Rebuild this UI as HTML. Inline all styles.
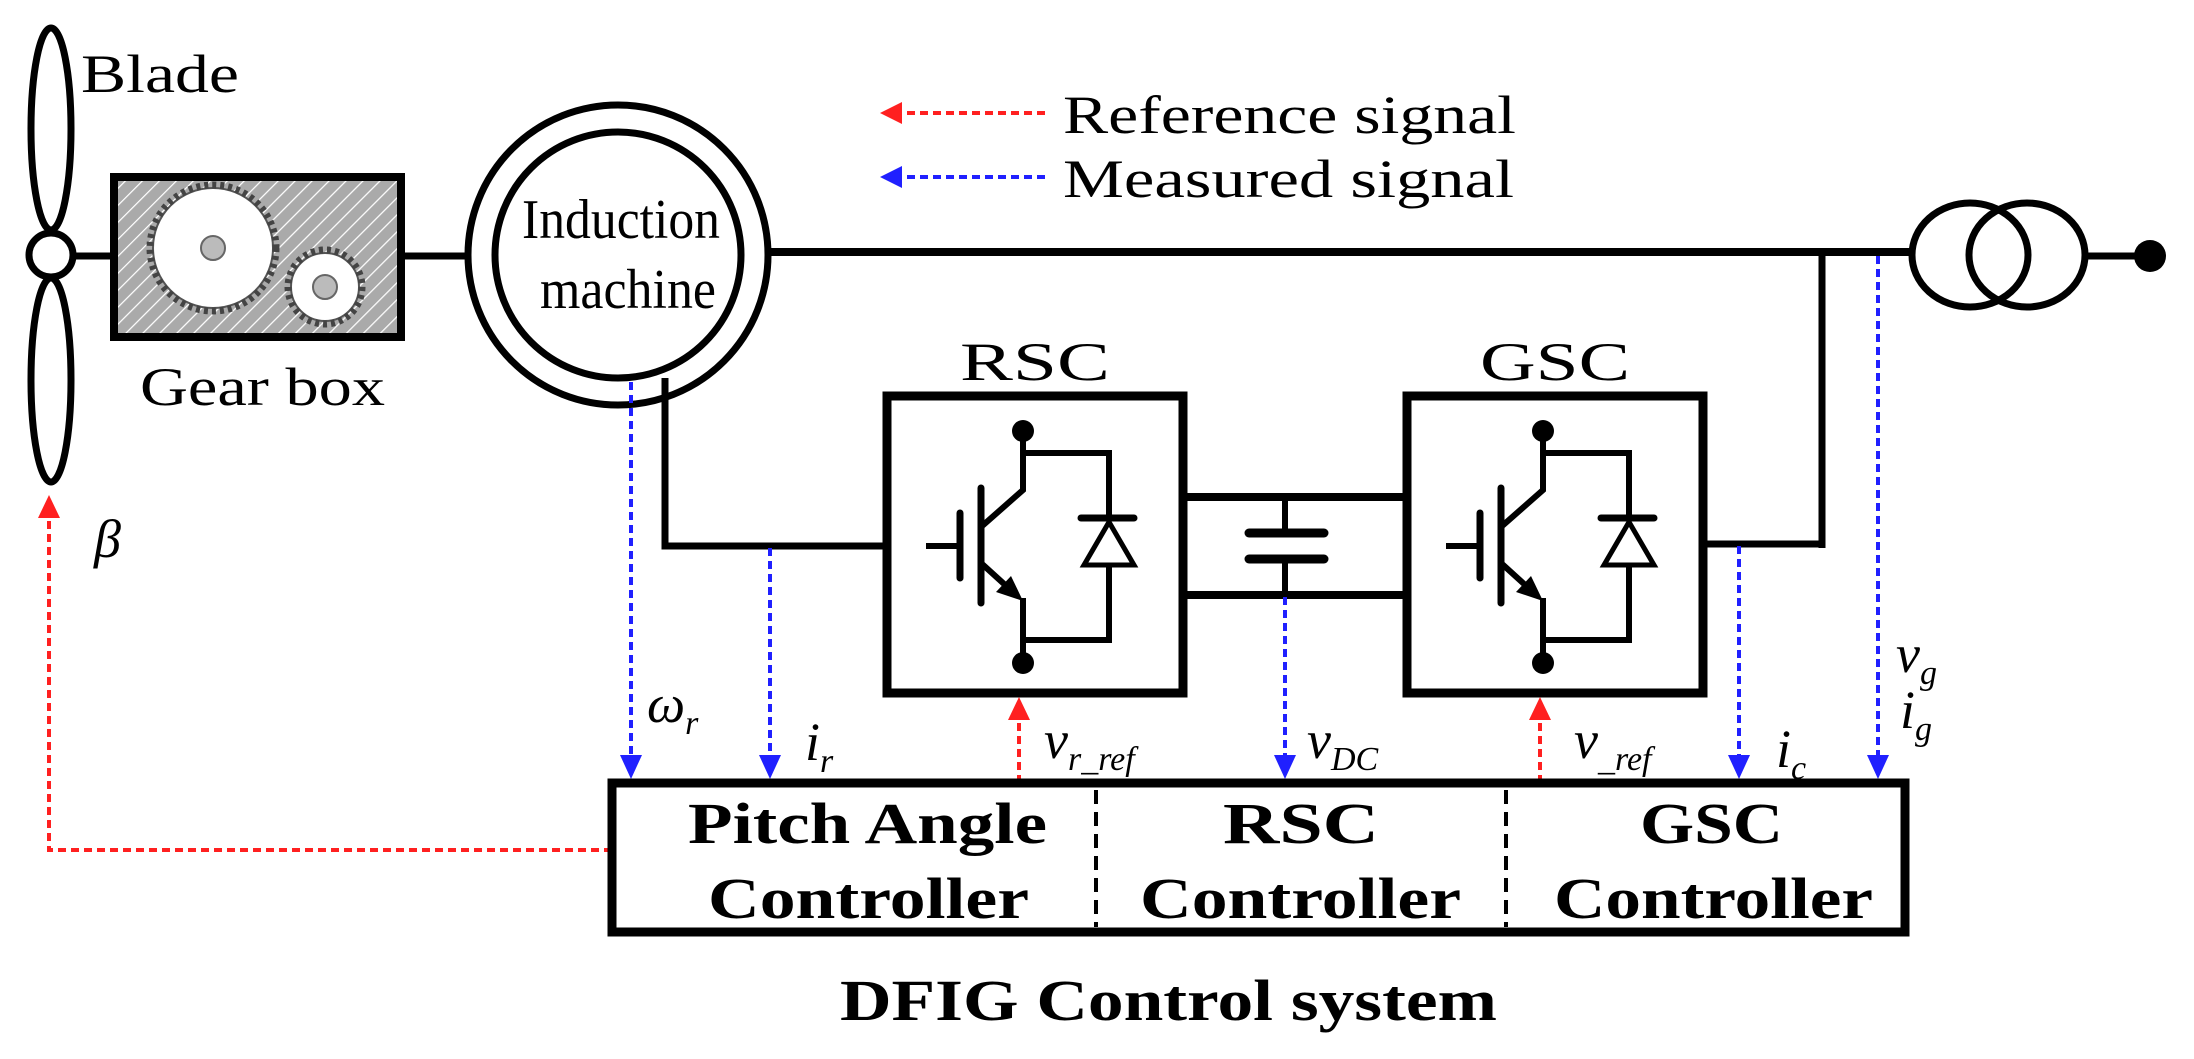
<!DOCTYPE html>
<html><head><meta charset="utf-8"><style>
html,body{margin:0;padding:0;background:#fff;}
svg{display:block;}
text{font-family:"Liberation Serif",serif;fill:#000;}
</style></head><body>
<svg width="2194" height="1059" viewBox="0 0 2194 1059" xmlns="http://www.w3.org/2000/svg">
<defs>
<pattern id="hatch" patternUnits="userSpaceOnUse" width="12" height="12" patternTransform="rotate(45)">
<rect width="12" height="12" fill="#aaaaaa"/>
<line x1="0" y1="0" x2="0" y2="12" stroke="#fff" stroke-width="2.5"/>
</pattern>
</defs>

<ellipse cx="51" cy="129" rx="20" ry="101" fill="none" stroke="#000" stroke-width="7"/>
<ellipse cx="51" cy="380" rx="20" ry="102" fill="none" stroke="#000" stroke-width="7"/>
<line x1="70" y1="256" x2="114" y2="256" stroke="#000" stroke-width="7"/>
<circle cx="51" cy="255" r="22" fill="#fff" stroke="#000" stroke-width="7"/>
<text x="81" y="92" font-size="54" textLength="158" lengthAdjust="spacingAndGlyphs">Blade</text>

<rect x="114" y="177" width="287" height="160" fill="url(#hatch)" stroke="#000" stroke-width="8"/>
<circle cx="213" cy="248" r="60" fill="#fff" stroke="#555" stroke-width="2"/>
<circle cx="213" cy="248" r="63" fill="none" stroke="#444" stroke-width="7" stroke-dasharray="4 4"/>
<circle cx="213" cy="248" r="12" fill="#bbb" stroke="#666" stroke-width="2"/>
<circle cx="325" cy="287" r="34" fill="#fff" stroke="#555" stroke-width="2"/>
<circle cx="325" cy="287" r="37" fill="none" stroke="#444" stroke-width="7" stroke-dasharray="4 4"/>
<circle cx="325" cy="287" r="12" fill="#bbb" stroke="#666" stroke-width="2"/>
<text x="140" y="405" font-size="54" textLength="245" lengthAdjust="spacingAndGlyphs">Gear box</text>
<line x1="401" y1="256" x2="468" y2="256" stroke="#000" stroke-width="7"/>

<circle cx="618" cy="255" r="150" fill="#fff" stroke="#000" stroke-width="7"/>
<circle cx="618" cy="255" r="123" fill="#fff" stroke="#000" stroke-width="7"/>
<text x="522" y="238" font-size="56" textLength="198" lengthAdjust="spacingAndGlyphs">Induction</text>
<text x="540" y="308" font-size="56" textLength="176" lengthAdjust="spacingAndGlyphs">machine</text>

<line x1="768" y1="252" x2="1912" y2="252" stroke="#000" stroke-width="8"/>
<line x1="1822" y1="249" x2="1822" y2="548" stroke="#000" stroke-width="7"/>
<line x1="1700" y1="544" x2="1825" y2="544" stroke="#000" stroke-width="7"/>

<ellipse cx="1970" cy="255" rx="58" ry="52" fill="none" stroke="#000" stroke-width="7"/>
<ellipse cx="2027" cy="255" rx="58" ry="52" fill="none" stroke="#000" stroke-width="7"/>
<line x1="2085" y1="256" x2="2150" y2="256" stroke="#000" stroke-width="7"/>
<circle cx="2150" cy="256" r="16" fill="#000"/>

<polyline points="665,378 665,546 890,546" fill="none" stroke="#000" stroke-width="7"/>

<line x1="1183" y1="497" x2="1407" y2="497" stroke="#000" stroke-width="8"/>
<line x1="1183" y1="595" x2="1407" y2="595" stroke="#000" stroke-width="8"/>
<line x1="1285" y1="497" x2="1285" y2="533" stroke="#000" stroke-width="6"/>
<line x1="1285" y1="559" x2="1285" y2="595" stroke="#000" stroke-width="6"/>
<line x1="1249" y1="533" x2="1324" y2="533" stroke="#000" stroke-width="9" stroke-linecap="round"/>
<line x1="1249" y1="559" x2="1324" y2="559" stroke="#000" stroke-width="9" stroke-linecap="round"/>

<g id="conv">
<rect x="887" y="396" width="296" height="297" fill="none" stroke="#000" stroke-width="9"/>
<circle cx="1023" cy="431" r="11" fill="#000"/>
<polyline points="1023,431 1023,490 981,527" fill="none" stroke="#000" stroke-width="6"/>
<line x1="1023" y1="453" x2="1112" y2="453" stroke="#000" stroke-width="6"/>
<line x1="981" y1="488" x2="981" y2="603" stroke="#000" stroke-width="7" stroke-linecap="round"/>
<line x1="960" y1="513" x2="960" y2="578" stroke="#000" stroke-width="7" stroke-linecap="round"/>
<line x1="926" y1="546" x2="960" y2="546" stroke="#000" stroke-width="6"/>
<line x1="981" y1="563" x2="1014" y2="593" stroke="#000" stroke-width="6"/>
<polygon points="1023,601 996,592 1011,576" fill="#000"/>
<polyline points="1023,598 1023,663" fill="none" stroke="#000" stroke-width="6"/>
<circle cx="1023" cy="663" r="11" fill="#000"/>
<polyline points="1023,640 1109,640 1109,565" fill="none" stroke="#000" stroke-width="6"/>
<line x1="1109" y1="453" x2="1109" y2="518" stroke="#000" stroke-width="6"/>
<line x1="1081" y1="518" x2="1134" y2="518" stroke="#000" stroke-width="7" stroke-linecap="round"/>
<polygon points="1109,522 1084,565 1134,565" fill="#fff" stroke="#000" stroke-width="5"/>
</g>
<use href="#conv" transform="translate(520,0)"/>
<text x="1035" y="380" font-size="54" text-anchor="middle" textLength="150" lengthAdjust="spacingAndGlyphs">RSC</text>
<text x="1555" y="380" font-size="54" text-anchor="middle" textLength="150" lengthAdjust="spacingAndGlyphs">GSC</text>

<g stroke="#2020ff" stroke-width="4" stroke-dasharray="8 5" fill="none">
<line x1="631" y1="382" x2="631" y2="760"/>
<line x1="770" y1="548" x2="770" y2="760"/>
<line x1="1285" y1="597" x2="1285" y2="760"/>
<line x1="1739" y1="546" x2="1739" y2="760"/>
<line x1="1878" y1="256" x2="1878" y2="760"/>
<line x1="1045" y1="177" x2="895" y2="177"/>
</g>
<g fill="#2020ff">
<polygon points="620,755 642,755 631,779"/>
<polygon points="759,755 781,755 770,779"/>
<polygon points="1274,755 1296,755 1285,779"/>
<polygon points="1728,755 1750,755 1739,779"/>
<polygon points="1867,755 1889,755 1878,779"/>
<polygon points="880,177 902,166 902,188"/>
</g>

<g stroke="#ff2020" stroke-width="4" stroke-dasharray="8 5" fill="none">
<line x1="1019" y1="783" x2="1019" y2="715"/>
<line x1="1540" y1="783" x2="1540" y2="715"/>
<polyline points="612,850 49,850 49,512"/>
<line x1="1045" y1="113" x2="895" y2="113"/>
</g>
<g fill="#ff2020">
<polygon points="1008,720 1030,720 1019,697"/>
<polygon points="1529,720 1551,720 1540,697"/>
<polygon points="38,518 60,518 49,495"/>
<polygon points="880,113 902,102 902,124"/>
</g>

<text x="1063" y="133" font-size="54" textLength="453" lengthAdjust="spacingAndGlyphs">Reference signal</text>
<text x="1063" y="197" font-size="54" textLength="451" lengthAdjust="spacingAndGlyphs">Measured signal</text>

<rect x="612" y="783" width="1293" height="149" fill="none" stroke="#000" stroke-width="9"/>
<line x1="1096" y1="790" x2="1096" y2="927" stroke="#000" stroke-width="4" stroke-dasharray="14 8"/>
<line x1="1506" y1="790" x2="1506" y2="927" stroke="#000" stroke-width="4" stroke-dasharray="14 8"/>
<g font-weight="bold" font-size="58">
<text x="688" y="843" textLength="359" lengthAdjust="spacingAndGlyphs">Pitch Angle</text>
<text x="708" y="918" textLength="321" lengthAdjust="spacingAndGlyphs">Controller</text>
<text x="1223" y="843" textLength="156" lengthAdjust="spacingAndGlyphs">RSC</text>
<text x="1140" y="918" textLength="321" lengthAdjust="spacingAndGlyphs">Controller</text>
<text x="1640" y="843" textLength="143" lengthAdjust="spacingAndGlyphs">GSC</text>
<text x="1554" y="918" textLength="319" lengthAdjust="spacingAndGlyphs">Controller</text>
<text x="840" y="1020" textLength="657" lengthAdjust="spacingAndGlyphs">DFIG Control system</text>
</g>

<g font-style="italic" font-size="54">
<text x="94" y="557">β</text>
<text x="647" y="722">ω<tspan font-size="34" dy="12">r</tspan></text>
<text x="805" y="760">i<tspan font-size="34" dy="12">r</tspan></text>
<text x="1044" y="758">v<tspan font-size="34" dy="12">r_ref</tspan></text>
<text x="1307" y="758">v<tspan font-size="34" dy="12">DC</tspan></text>
<text x="1574" y="758">v<tspan font-size="34" dy="12">_ref</tspan></text>
<text x="1776" y="767">i<tspan font-size="34" dy="12">c</tspan></text>
<text x="1896" y="672">v<tspan font-size="34" dy="12">g</tspan></text>
<text x="1900" y="728">i<tspan font-size="34" dy="12">g</tspan></text>
</g>
</svg>
</body></html>
